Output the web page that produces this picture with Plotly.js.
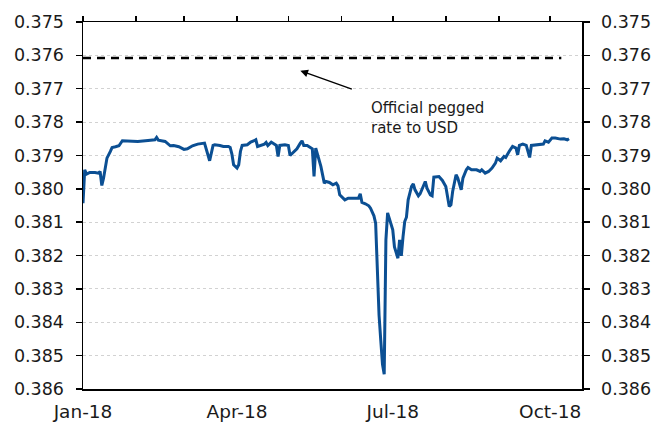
<!DOCTYPE html>
<html>
<head>
<meta charset="utf-8">
<script src="https://cdn.plot.ly/plotly-3.0.1.min.js"></script>
<style>
  html, body { margin: 0; padding: 0; background: #ffffff; }
  #chart { width: 655px; height: 422px; }
</style>
</head>
<body>
<div id="chart"></div>
<script>
// Bahraini dinar per US dollar, daily fixing, 2018 (axis inverted: stronger BHD at top)
const dates = [
  '2018-01-01','2018-01-02','2018-01-03','2018-01-05','2018-01-08','2018-01-10','2018-01-11','2018-01-12',
  '2018-01-13','2018-01-15','2018-01-17','2018-01-18','2018-01-20','2018-01-22','2018-01-24','2018-01-27',
  '2018-02-02','2018-02-08','2018-02-12','2018-02-13','2018-02-14','2018-02-18','2018-02-19','2018-02-21',
  '2018-02-23','2018-02-26','2018-03-01','2018-03-03','2018-03-06','2018-03-09','2018-03-13','2018-03-16',
  '2018-03-18','2018-03-19','2018-03-22','2018-03-24','2018-03-27','2018-03-28','2018-03-29','2018-03-30',
  '2018-04-01','2018-04-02','2018-04-03','2018-04-04','2018-04-07','2018-04-09','2018-04-11','2018-04-12',
  '2018-04-13','2018-04-15','2018-04-17','2018-04-18','2018-04-19','2018-04-21','2018-04-23','2018-04-24',
  '2018-04-25','2018-04-26','2018-04-29','2018-05-01','2018-05-02','2018-05-04','2018-05-06','2018-05-08',
  '2018-05-09','2018-05-10','2018-05-12','2018-05-15','2018-05-16','2018-05-17','2018-05-19','2018-05-20',
  '2018-05-22','2018-05-23','2018-05-25','2018-05-27','2018-05-29','2018-05-30','2018-05-31','2018-06-03',
  '2018-06-05','2018-06-09','2018-06-11','2018-06-12','2018-06-13','2018-06-15','2018-06-17','2018-06-18',
  '2018-06-20','2018-06-21','2018-06-22','2018-06-23','2018-06-24','2018-06-25','2018-06-26','2018-06-27',
  '2018-06-28','2018-06-29','2018-07-01','2018-07-02','2018-07-04','2018-07-05','2018-07-06','2018-07-07',
  '2018-07-08','2018-07-09','2018-07-10','2018-07-12','2018-07-13','2018-07-14','2018-07-16','2018-07-17',
  '2018-07-20','2018-07-21','2018-07-23','2018-07-24','2018-07-25','2018-07-28','2018-07-30','2018-08-01',
  '2018-08-02','2018-08-03','2018-08-04','2018-08-05','2018-08-07','2018-08-08','2018-08-10','2018-08-11',
  '2018-08-13','2018-08-14','2018-08-16','2018-08-19','2018-08-21','2018-08-22','2018-08-24','2018-08-26',
  '2018-08-28','2018-08-30','2018-08-31','2018-09-02','2018-09-04','2018-09-05','2018-09-07','2018-09-09',
  '2018-09-11','2018-09-12','2018-09-13','2018-09-15','2018-09-17','2018-09-19','2018-09-20','2018-09-24',
  '2018-09-27','2018-09-28','2018-09-30','2018-10-02','2018-10-04','2018-10-07','2018-10-09','2018-10-11',
  '2018-10-12'
];
const bhdPerUsd = [
  0.38043,0.37943,0.37956,0.37951,0.37951,0.37953,0.37948,0.37990,
  0.37968,0.37908,0.37888,0.37876,0.37874,0.37871,0.37856,0.37856,
  0.37858,0.37855,0.37853,0.37846,0.37854,0.37858,0.37863,0.37871,
  0.37870,0.37874,0.37882,0.37880,0.37871,0.37866,0.37863,0.37916,
  0.37870,0.37868,0.37870,0.37873,0.37873,0.37876,0.37896,0.37928,
  0.37938,0.37928,0.37888,0.37870,0.37868,0.37860,0.37856,0.37853,
  0.37873,0.37870,0.37866,0.37861,0.37870,0.37860,0.37866,0.37870,
  0.37903,0.37870,0.37868,0.37870,0.37900,0.37890,0.37880,0.37863,
  0.37856,0.37870,0.37870,0.37880,0.37963,0.37878,0.37918,0.37933,
  0.37983,0.37978,0.37981,0.37988,0.37983,0.37991,0.38018,0.38033,
  0.38028,0.38028,0.38028,0.38015,0.38041,0.38045,0.38051,0.38058,
  0.38081,0.38103,0.38265,0.38379,0.38454,0.38526,0.38556,0.38153,
  0.38072,0.38088,0.38123,0.38174,0.38208,0.38153,0.38201,0.38144,
  0.38098,0.38085,0.38033,0.37993,0.37985,0.38003,0.38021,0.38015,
  0.37978,0.37998,0.38018,0.38021,0.37965,0.37963,0.37975,0.37993,
  0.38018,0.38053,0.38048,0.38008,0.37958,0.37968,0.38003,0.37968,
  0.37943,0.37936,0.37943,0.37943,0.37948,0.37943,0.37953,0.37948,
  0.37938,0.37923,0.37908,0.37916,0.37903,0.37906,0.37888,0.37873,
  0.37878,0.37898,0.37870,0.37866,0.37870,0.37906,0.37870,0.37868,
  0.37866,0.37856,0.37860,0.37848,0.37848,0.37851,0.37850,0.37853,
  0.37850
];

// Official peg
const pegDates = ['2018-01-01', '2018-10-07 12:00'];
const pegValues = [0.37608, 0.37608];

// Axis ticks
const xRange = ['2018-01-01', '2018-10-19 14:00'];
const tickDates = ['2018-01-01', '2018-04-01', '2018-07-01', '2018-10-01'];
const tickLabels = ['Jan-18', 'Apr-18', 'Jul-18', 'Oct-18'];
const yRange = [0.386, 0.375];

const FONT = 'DejaVu Sans, Verdana, sans-serif';
const INK = '#1a1a1a';

const traces = [
  {
    x: dates, y: bhdPerUsd, type: 'scatter', mode: 'lines',
    line: { color: '#0b4f93', width: 3 },
    xaxis: 'x', yaxis: 'y', hoverinfo: 'x+y'
  },
  {
    x: pegDates, y: pegValues, type: 'scatter', mode: 'lines',
    line: { color: '#000000', width: 2.5, dash: '8px,6px' },
    xaxis: 'x2', yaxis: 'y2', hoverinfo: 'skip'
  }
];

const axisLine = { showline: true, linecolor: '#000000', linewidth: 1.5, zeroline: false };

const layout = {
  width: 655, height: 422,
  margin: { l: 83, r: 73, t: 22, b: 33, pad: 0 },
  paper_bgcolor: '#ffffff', plot_bgcolor: '#ffffff',
  showlegend: false,
  font: { family: FONT, color: INK },
  xaxis: Object.assign({
    type: 'date', range: xRange,
    tickmode: 'array', tickvals: tickDates, ticktext: tickLabels,
    ticks: '', showgrid: false,
    tickfont: { family: FONT, size: 18.5, color: INK },
    ticklabelstandoff: 5
  }, axisLine),
  xaxis2: Object.assign({
    type: 'date', range: xRange, overlaying: 'x', side: 'top', anchor: 'y',
    tick0: '2018-01-01', dtick: 'M1',
    ticks: 'outside', ticklen: 5, tickwidth: 1.5, tickcolor: '#000000',
    showticklabels: false, showgrid: false
  }, axisLine),
  yaxis: Object.assign({
    range: yRange, tick0: 0.375, dtick: 0.001, tickformat: '.3f',
    ticks: 'outside', ticklen: 6, tickwidth: 1.5, tickcolor: '#000000',
    showgrid: true, gridcolor: '#d2d2d2', gridwidth: 1, griddash: 'dot',
    tickfont: { family: FONT, size: 17.5, color: INK },
    ticklabelstandoff: 8
  }, axisLine),
  yaxis2: Object.assign({
    range: yRange, tick0: 0.375, dtick: 0.001, tickformat: '.3f',
    overlaying: 'y', side: 'right', anchor: 'x',
    ticks: 'outside', ticklen: 6, tickwidth: 1.5, tickcolor: '#000000',
    showgrid: false,
    tickfont: { family: FONT, size: 17.5, color: INK },
    ticklabelstandoff: 8
  }, axisLine),
  annotations: [
    {
      xref: 'x', yref: 'y', x: '2018-06-17 00:00', y: 0.37788,
      xanchor: 'left', yanchor: 'middle', align: 'left',
      text: 'Official pegged<br>rate to USD', showarrow: false,
      font: { family: FONT, size: 15, color: INK }
    },
    {
      xref: 'x', yref: 'y', x: '2018-05-08 00:00', y: 0.37646,
      text: '', showarrow: true, ax: 53, ay: 19,
      arrowhead: 2, arrowsize: 1.1, arrowwidth: 1.4, arrowcolor: '#000000'
    }
  ]
};

Plotly.newPlot('chart', traces, layout, { displayModeBar: false, staticPlot: true });
</script>
</body>
</html>
